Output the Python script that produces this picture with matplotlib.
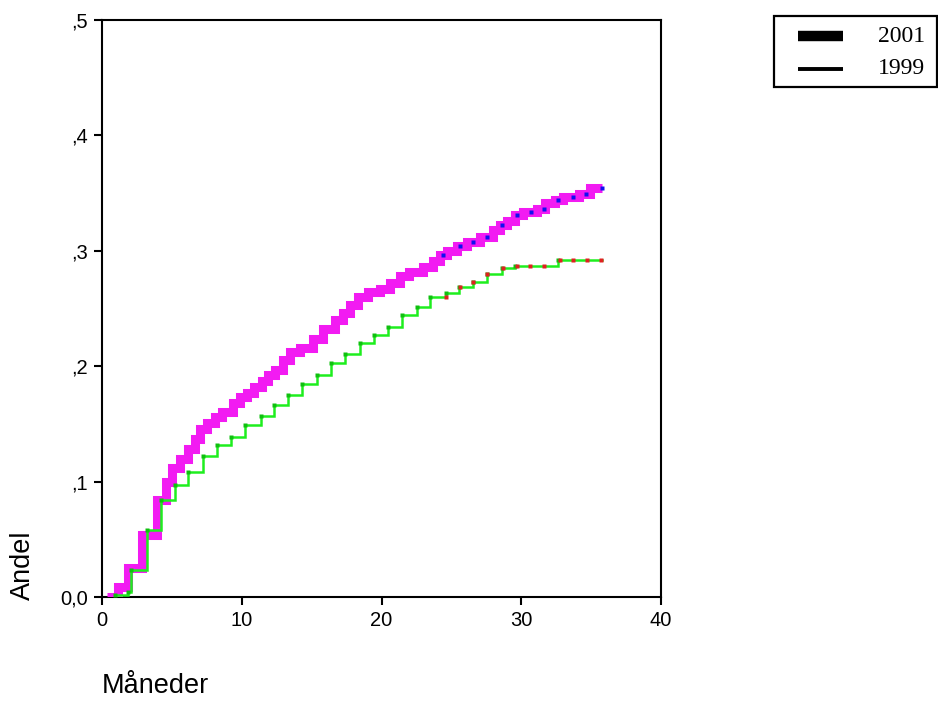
import numpy as np
import matplotlib
matplotlib.use("Agg")
import matplotlib.pyplot as plt
from matplotlib.lines import Line2D
from matplotlib.patches import Rectangle

# ---- data ----
t01 = [0.35, 1.15, 1.86, 2.86, 3.94, 4.58, 5.0, 5.6, 6.15, 6.65, 7.0, 7.5, 8.1, 8.6,
       9.4, 9.9, 10.4, 10.9, 11.45, 11.9, 12.4, 12.95, 13.45, 14.2, 15.1, 15.8, 16.7,
       17.25, 17.75, 18.3, 19.0, 19.9, 20.6, 21.3, 22.0, 23.0, 23.7, 24.2, 24.7, 25.4,
       26.1, 27.05, 28.0, 28.5, 29.0, 29.55, 30.1, 31.1, 31.7, 32.4, 33.0, 34.1, 34.9, 35.8]
v01 = [0.0, 0.009, 0.025, 0.054, 0.084, 0.100, 0.112, 0.120, 0.128, 0.137, 0.146, 0.151,
       0.156, 0.160, 0.168, 0.173, 0.177, 0.182, 0.187, 0.192, 0.197, 0.205, 0.212, 0.216,
       0.224, 0.232, 0.240, 0.246, 0.253, 0.260, 0.264, 0.267, 0.272, 0.278, 0.282, 0.286,
       0.291, 0.296, 0.300, 0.304, 0.308, 0.312, 0.318, 0.322, 0.326, 0.331, 0.334, 0.336,
       0.341, 0.344, 0.347, 0.349, 0.354, 0.354]

t99 = [0.93, 1.86, 2.08, 3.22, 4.22, 5.22, 6.15, 7.23, 8.23, 9.23, 10.23, 11.38, 12.31,
       13.31, 14.31, 15.38, 16.39, 17.39, 18.46, 19.46, 20.47, 21.47, 22.54, 23.47, 24.62,
       25.55, 26.55, 27.55, 28.62, 29.55, 32.63, 35.78]
v99 = [0.002, 0.004, 0.023, 0.058, 0.084, 0.097, 0.108, 0.122, 0.132, 0.139, 0.149, 0.157,
       0.166, 0.175, 0.185, 0.192, 0.203, 0.211, 0.220, 0.227, 0.234, 0.244, 0.251, 0.260,
       0.263, 0.269, 0.273, 0.280, 0.285, 0.287, 0.292, 0.292]

cens01 = [24.4, 25.6, 26.55, 27.55, 28.6, 29.7, 30.7, 31.6, 32.6, 33.7, 34.6, 35.8]
cens99 = [24.6, 25.6, 26.55, 27.55, 28.7, 29.7, 30.6, 31.6, 32.8, 33.7, 34.7, 35.7]

series_labels = ["2001", "1999"]
xticks = [0, 10, 20, 30, 40]
yticks = [0.0, 0.1, 0.2, 0.3, 0.4, 0.5]
yticklabels = ["0,0", ",1", ",2", ",3", ",4", ",5"]


def step_val(ts, vs, tc):
    idx = np.searchsorted(ts, tc, side="right") - 1
    return np.asarray(vs)[np.clip(idx, 0, len(vs) - 1)]


W, H = 938, 701
fig = plt.figure(figsize=(W / 100, H / 100), dpi=100)
L, R, T, B = 102, 661, 20, 597
ax = fig.add_axes([L / W, 1 - B / H, (R - L) / W, (B - T) / H])

ax.plot(t01, v01, drawstyle="steps-post", color="#F21BF2", lw=6.5,
        solid_joinstyle="miter", solid_capstyle="butt", zorder=3)
ax.plot(t99, v99, drawstyle="steps-post", color="#1EEE1E", lw=1.8,
        solid_joinstyle="miter", zorder=4)
ax.plot(t99[:-1], v99[:-1], ls="none", marker="s", ms=2.2, color="#10C010",
        mec="none", zorder=5)

ax.plot(cens01, step_val(t01, v01, cens01), ls="none", marker="s", ms=2.6,
        color="#1010F0", mec="none", zorder=6)
ax.plot(cens99, step_val(t99, v99, cens99), ls="none", marker="s", ms=2.4,
        color="#E02020", mec="none", zorder=6)

ax.set_xlim(0, 40)
ax.set_ylim(0, 0.5)
ax.set_xticks(xticks)
ax.set_yticks(yticks)
ax.set_yticklabels(yticklabels)
for s in ax.spines.values():
    s.set_linewidth(1.5)
ax.tick_params(direction="out", length=6, width=1.5, labelsize=14.5, pad=4)
for lab in ax.get_xticklabels() + ax.get_yticklabels():
    lab.set_fontfamily("Liberation Sans")

fig.text(23 / W, 1 - 600 / H, "Andel", rotation=90, ha="center", va="bottom",
         fontsize=19.5, family="Liberation Sans")
fig.text(102 / W, 1 - 686 / H, "Måneder", ha="left", va="center",
         fontsize=19.5, family="Liberation Sans")

# legend box
fig.add_artist(Rectangle((774 / W, 1 - 87 / H), (937 - 774) / W, (87 - 16) / H,
                         transform=fig.transFigure, fill=False, lw=1.6, ec="black"))
fig.add_artist(Line2D([798 / W, 843 / W], [1 - 36 / H, 1 - 36 / H],
                      transform=fig.transFigure, color="black", lw=7.5,
                      solid_capstyle="butt"))
fig.add_artist(Line2D([798 / W, 843 / W], [1 - 69 / H, 1 - 69 / H],
                      transform=fig.transFigure, color="black", lw=2.8,
                      solid_capstyle="butt"))
fig.text(878 / W, 1 - 36 / H, series_labels[0], ha="left", va="center",
         fontsize=17, family="Liberation Serif")
fig.text(878 / W, 1 - 69 / H, series_labels[1], ha="left", va="center",
         fontsize=17, family="Liberation Serif")

fig.savefig("out.png", dpi=100)
